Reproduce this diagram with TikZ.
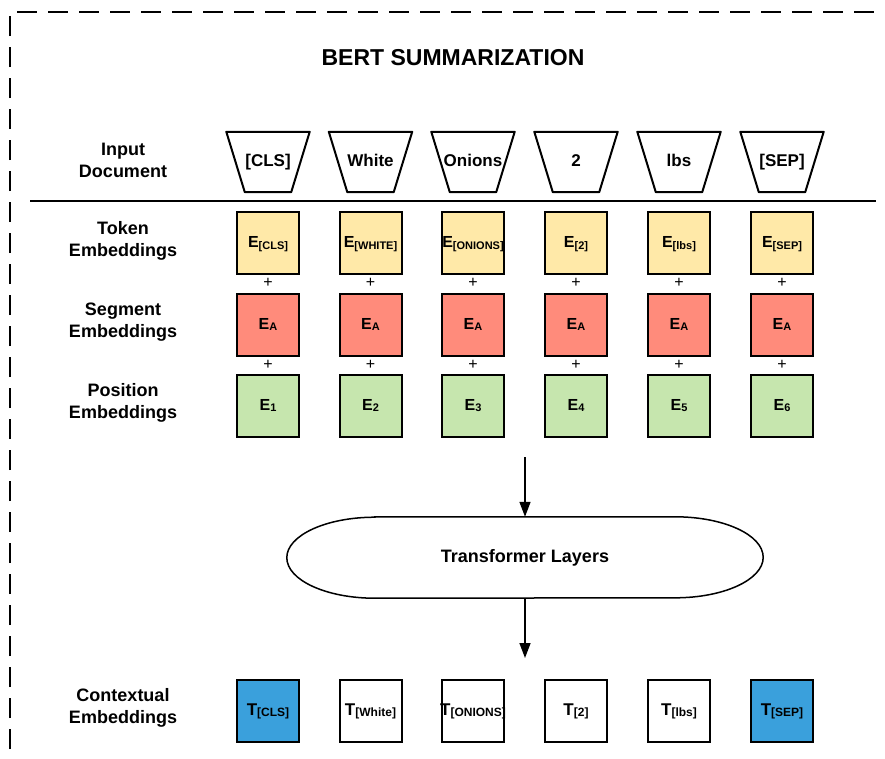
\documentclass[tikz,border=0pt]{standalone}
\usepackage{fontspec}
\setmainfont{Liberation Sans}
\usetikzlibrary{arrows.meta,positioning}

\definecolor{tokfill}{HTML}{FFE9A8}
\definecolor{segfill}{HTML}{FF8B7B}
\definecolor{posfill}{HTML}{C6E6AE}
\definecolor{ctxfill}{HTML}{3AA0DC}

\newcommand{\subtx}[1]{\raisebox{-1.5pt}{\fontsize{11}{11}\selectfont #1}}
\newcommand{\nowid}[1]{\makebox[0pt][c]{#1}}

\tikzset{
	emb/.style={draw, line width=2pt, minimum size=62pt, inner sep=0pt, text height=11.5pt, text depth=2.5pt, font=\bfseries\fontsize{16}{16}\selectfont},
	inp/.style={minimum width=83pt, minimum height=60pt, inner sep=0pt, text height=12pt, text depth=3pt, font=\bfseries\fontsize{17}{17}\selectfont},
	rowlbl/.style={align=center, font=\bfseries\fontsize{18}{22}\selectfont},
	plus/.style={font=\fontsize{16}{16}\selectfont},
	flow/.style={line width=1.5pt, -{Triangle[width=11pt,length=15pt]}}
}

\begin{document}
\begin{tikzpicture}[x=1pt,y=-1pt]

\useasboundingbox (0,0) rectangle (885,758);
\draw[line width=2.2pt, dash pattern=on 20pt off 11pt] (10,780) -- (10,12) -- (900,12);

\node[font=\bfseries\fontsize{23}{23}\selectfont] (title) at (453,58) {BERT SUMMARIZATION};

% row labels
\node[rowlbl] (lin) at (123,160) {Input\\Document};
\node[rowlbl] (ltok) at (123,240.5) {Token\\Embeddings};
\node[rowlbl] (lseg) at (123,322.5) {Segment\\Embeddings};
\node[rowlbl] (lpos) at (123,402.5) {Position\\Embeddings};
\node[rowlbl] (lctx) at (123,708) {Contextual\\Embeddings};

\draw[line width=1.5pt] (30,201) -- (876,201);

% input tokens and embeddings
\foreach \i/\x/\w/\e in {1/268/{[CLS]}/{[CLS]}, 2/370.5/{White}/{[WHITE]}, 3/473/{Onions}/{[ONIONS]}, 4/576/{2}/{[2]}, 5/679/{lbs}/{[lbs]}, 6/782/{[SEP]}/{[SEP]}}
{
	\node[inp] (in\i) at (\x,162) {\nowid{\w}};
	\draw[line width=2pt, line join=round] (in\i.north west) -- (in\i.north east) -- ([xshift=-18.5pt]in\i.south east) -- ([xshift=18.5pt]in\i.south west) -- cycle;
	\node[emb, fill=tokfill] (tok\i) at (\x,243) {\nowid{E\subtx{\e}}};
	\node[plus] (pa\i) at (\x,283) {+};
	\node[emb, fill=segfill] (seg\i) at (\x,324.5) {E\subtx{A}};
	\node[plus] (pb\i) at (\x,364.5) {+};
	\node[emb, fill=posfill] (pos\i) at (\x,405.5) {E\subtx{\i}};
}

% contextual embeddings
\foreach \i/\x/\t/\c in {1/268/{[CLS]}/ctxfill, 2/370.5/{[White]}/white, 3/473/{[ONIONS]}/white, 4/576/{[2]}/white, 5/679/{[lbs]}/white, 6/782/{[SEP]}/ctxfill}
	\node[emb, fill=\c, font=\bfseries\fontsize{17}{17}\selectfont] (ctx\i) at (\x,710.5) {\nowid{T\subtx{\fontsize{12}{12}\selectfont\t}}};

% transformer
\node[minimum width=476pt, minimum height=81pt, inner sep=0pt, font=\bfseries\fontsize{18}{18}\selectfont] (tl) at (525,557.5) {Transformer Layers};
\draw[line width=1.5pt] ([xshift=88pt]tl.north west) -- ([xshift=-88pt]tl.north east)
	arc[start angle=90, end angle=-90, x radius=88pt, y radius=40.5pt]
	-- ([xshift=88pt]tl.south west)
	arc[start angle=270, end angle=90, x radius=88pt, y radius=40.5pt] -- cycle;

\coordinate (a0) at (525,457);
\coordinate (a1) at (525,658);
\draw[flow] (a0) -- (tl.north);
\draw[flow] (tl.south) -- (a1);

\end{tikzpicture}
\end{document}
